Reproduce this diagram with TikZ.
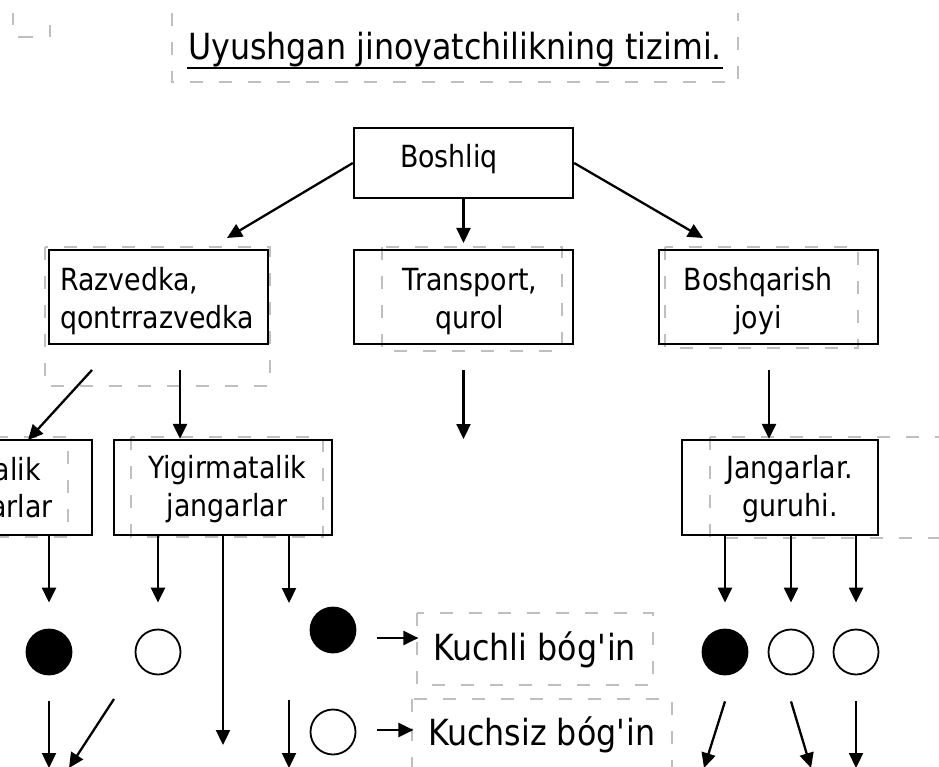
\documentclass[tikz,border=0pt]{standalone}
\usepackage{fontspec}
\setmainfont[FakeStretch=0.88]{DejaVu Sans}
\usetikzlibrary{arrows.meta}

\begin{document}
\begin{tikzpicture}[x=1pt,y=-1pt,line width=2.3pt,>={Triangle[length=15pt,width=14pt]},
	blok/.style={draw,line width=2.3pt,inner sep=0pt},
	matn/.style={font=\fontsize{30.5}{38}\selectfont,inner sep=0pt},
	katta/.style={font=\fontsize{36}{40}\selectfont,inner sep=0pt},
	ramka/.style={draw=black!25,line width=1.5pt,dash pattern=on 13pt off 16pt},
	doira/.style={circle,draw,line width=1.8pt,minimum size=45pt,inner sep=0pt}]
	\useasboundingbox (0,0) rectangle (939,767);
	\clip (0,0) rectangle (939,767);

	% text frames
	\begin{scope}
		\draw[draw=black!25,line width=1.5pt] (13,13) -- (13,25) (18,37) -- (33,37) (50,25) -- (50,37);
		\draw[ramka] (172,13) |- (738,82) -- (738,13);
		\draw[ramka] (45,247) rectangle (270,386);
		\draw[ramka] (382,247) rectangle (562,351);
		\draw[ramka] (665,247) rectangle (858,348);
		\draw[ramka] (-20,437) rectangle (68,537);
		\draw[ramka] (131,437) rectangle (323,537);
		\draw[ramka] (710,437) rectangle (960,538);
		\draw[ramka] (417,613) rectangle (653,685);
		\draw[ramka] (412,699) rectangle (672,780);
	\end{scope}

	% title
	\node[katta,anchor=base west] (sarlavha) at (187,60) {Uyushgan jinoyatchilikning tizimi.};
	\draw[line width=1.5pt] ([yshift=-8pt]sarlavha.base west) -- ([yshift=-8pt]sarlavha.base east);

	% boxes
	\node[blok,minimum width=219pt,minimum height=70pt] (boshliq) at (463.5,163) {};
	\node[blok,minimum width=219pt,minimum height=94pt] (razvedka) at (158.5,297) {};
	\node[blok,minimum width=219pt,minimum height=94pt] (transport) at (463.5,297) {};
	\node[blok,minimum width=219pt,minimum height=94pt] (boshqarish) at (768.5,297) {};
	\node[blok,minimum width=222pt,minimum height=95pt] (chap) at (-19,487.5) {};
	\node[blok,minimum width=218pt,minimum height=95pt] (yigirma) at (223,487.5) {};
	\node[blok,minimum width=196pt,minimum height=95pt] (jangarlar) at (780,487.5) {};

	\node[matn,anchor=base] (boshliq-t) at (449,168) {Boshliq};
	\node[matn,anchor=base west,align=left] (razvedka-t) at (59,328) {Razvedka,\\qontrrazvedka};
	\node[matn,anchor=base,align=center] (transport-t) at (470,328) {Transport,\\qurol};
	\node[matn,anchor=base,align=center] (boshqarish-t) at (758,328) {Boshqarish\\joyi};
	\node[matn,anchor=base east] (chap-t1) at (42,480) {alik};
	\node[matn,anchor=base east] (chap-t2) at (54,517) {arlar};
	\node[matn,anchor=base,align=center] (yigirma-t) at (227,516) {Yigirmatalik\\jangarlar};
	\node[matn,anchor=base,align=center] (jangarlar-t) at (790,516) {Jangarlar.\\guruhi.};

	% links
	\node[doira,fill=black] (k1) at (49,652) {};
	\node[doira] (k2) at (158,652) {};
	\node[doira,fill=black] (k3) at (333,630) {};
	\node[doira] (k4) at (333,732) {};
	\node[doira,fill=black] (k5) at (725,652) {};
	\node[doira] (k6) at (791,652) {};
	\node[doira] (k7) at (856,652) {};

	\node[katta,anchor=base west] (kuchli) at (432,660) {Kuchli bóg\textquotesingle in};
	\node[katta,anchor=base west] (kuchsiz) at (427,745) {Kuchsiz bóg\textquotesingle in};

	% arrows
	\coordinate (u1) at (227,238);
	\coordinate (u2) at (463.5,243);
	\coordinate (u3) at (703,238);
	\draw[->] (boshliq.west) -- (u1);
	\draw[->] (boshliq.south) -- (u2);
	\draw[->] (boshliq.east) -- (u3);

	\coordinate (s1) at (92,370);
	\coordinate (e1) at (28,440);
	\coordinate (s2) at (180,370);
	\coordinate (s3) at (463.5,370);
	\coordinate (e3) at (463.5,439);
	\coordinate (s4) at (769,370);
	\draw[->] (s1) -- (e1);
	\draw[->] (s2) -- (s2 |- yigirma.north);
	\draw[->] (s3) -- (e3);
	\draw[->] (s4) -- (s4 |- jangarlar.north);

	\foreach \q/\k in {chap/k1,yigirma/k2,jangarlar/k5,jangarlar/k6,jangarlar/k7}
		\draw[->,shorten >=26pt] (\q.south -| \k) -- (\k.north);
	\coordinate (e4) at (289,603);
	\coordinate (e5) at (223,745);
	\draw[->] (yigirma.south -| e4) -- (e4);
	\draw[->] (yigirma.south) -- (e5);

	\coordinate (s5) at (289,700);
	\coordinate (d1) at (49,768);
	\coordinate (d2) at (69,768);
	\coordinate (d3) at (289,768);
	\coordinate (d4) at (704,768);
	\coordinate (d5) at (811,768);
	\coordinate (d6) at (856,768);
	\draw[->] ([yshift=-26pt]k1.south) -- (d1);
	\draw[->] ([shift={(-44pt,-47pt)}]k2.center) -- (d2);
	\draw[->] (s5) -- (d3);
	\draw[->] ([yshift=-26pt]k5.south) -- (d4);
	\draw[->] ([yshift=-26pt]k6.south) -- (d5);
	\draw[->] ([yshift=-26pt]k7.south) -- (d6);

	\draw[->] ([shift={(21pt,-8pt)}]k3.east) -- ++(41,0);
	\draw[->] ([shift={(21pt,2pt)}]k4.east) -- ++(36,0);
\end{tikzpicture}
\end{document}
